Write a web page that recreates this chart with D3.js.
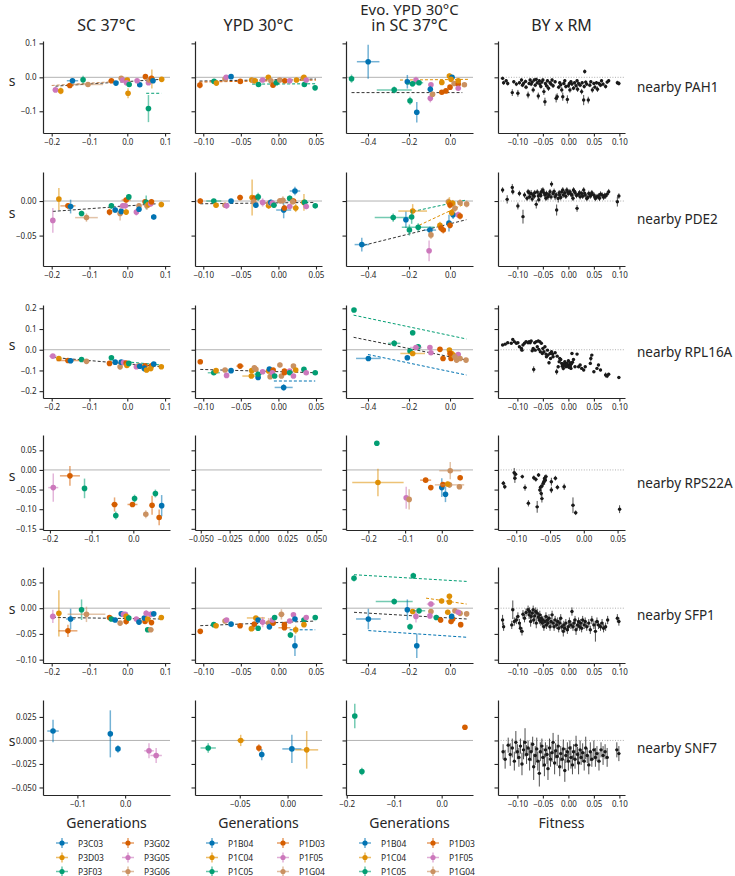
<!DOCTYPE html>
<html><head><meta charset="utf-8">
<script src="https://cdn.jsdelivr.net/npm/d3@7"></script>
<style>body{margin:0;background:#fff}svg{display:block}text{font-family:"Noto Sans",sans-serif;fill:#262626}</style>
</head><body><svg id="c" width="735" height="876"></svg>
<script>
// ---------------- DATA ----------------
const seriesSC = ["P3C03","P3D03","P3F03","P3G02","P3G05","P3G06"];
const seriesYPD = ["P1B04","P1C04","P1C05","P1D03","P1F05","P1G04"];
const seriesEvo = ["P1B04","P1C04","P1C05","P1D03","P1F05","P1G04"];
const colTitles = [["SC 37°C"],["YPD 30°C"],["Evo. YPD 30°C","in SC 37°C"],["BY x RM"]];
const rowGenes = ["nearby PAH1","nearby PDE2","nearby RPL16A","nearby RPS22A","nearby SFP1","nearby SNF7"];
const xLabels = ["Generations","Generations","Generations","Fitness"];
const yLabel = "s";
const byrmXerr = 0.0025;

const yDomains = [[-0.164,0.107],[-0.094,0.042],[-0.233,0.216],[-0.153,0.089],[-0.1065,0.080],[-0.058,0.043]];
const yTicks = [[-0.1,0,0.1],[-0.05,0],[-0.2,-0.1,0,0.1,0.2],[-0.15,-0.1,-0.05,0,0.05],[-0.1,-0.05,0,0.05],[-0.05,-0.025,0,0.025]];
const yFormats = [".1f",".2f",".1f",".2f",".2f",".3f"];
const xDomStd = [[-0.223,0.113],[-0.111,0.058],[-0.507,0.112],[-0.138,0.111]];
const xDomains = [xDomStd,xDomStd,xDomStd,
  [[-0.2166,0.088],[-0.055,0.055],[-0.261,0.085],[-0.127,0.061]],
  xDomStd,
  [[-0.172,0.094],[-0.0968,0.036],[-0.2015,0.066],[-0.138,0.111]]];
const xTickStd = [[-0.2,-0.1,0,0.1],[-0.1,-0.05,0,0.05],[-0.4,-0.2,0],[-0.1,-0.05,0,0.05,0.1]];
const xTicks = [xTickStd,xTickStd,xTickStd,
  [[-0.2,-0.1,0],[-0.05,-0.025,0,0.025,0.05],[-0.2,-0.1,0],[-0.1,-0.05,0,0.05]],
  xTickStd,
  [[-0.1,0],[-0.05,0],[-0.2,-0.1,0],[-0.1,-0.05,0,0.05,0.1]]];
const xFmtStd = [".1f",".2f",".1f",".2f"];
const xFormats = [xFmtStd,xFmtStd,xFmtStd,[".1f",".3f",".1f",".2f"],xFmtStd,[".1f",".2f",".1f",".2f"]];

// colored panels: [series, x, y, xerr, yerr]; fits: [series(-1=all), x1,y1,x2,y2]
const pah1_sc = [[4,-0.190,-0.037,0.008,0.006],[1,-0.176,-0.040,0.004,0.010],[3,-0.152,-0.024,0.010,0.004],[0,-0.145,-0.010,0.015,0.008],[2,-0.117,-0.007,0.005,0.012],[5,-0.104,-0.021,0.040,0.006],[3,-0.042,-0.010,0.008,0.004],[0,-0.030,-0.017,0.004,0.004],[5,-0.016,-0.003,0.006,0.004],[4,-0.012,-0.008,0.006,0.004],[1,0.000,-0.008,0.006,0.004],[4,-0.002,-0.016,0.006,0.006],[1,0.002,-0.047,0.005,0.015],[2,0.005,-0.021,0.004,0.006],[0,0.033,-0.022,0.004,0.004],[4,0.026,-0.010,0.006,0.004],[3,0.048,0.002,0.004,0.004],[2,0.056,-0.092,0.004,0.040],[4,0.056,-0.016,0.006,0.006],[5,0.058,-0.008,0.006,0.006],[1,0.065,-0.005,0.004,0.028],[3,0.064,-0.003,0.006,0.008],[0,0.068,-0.010,0.006,0.006],[1,0.091,-0.006,0.004,0.004]];
const pah1_sc_fit = [[-1,-0.19,-0.026,0.09,-0.006],[5,-0.2,-0.024,-0.04,-0.013],[2,0.05,-0.047,0.09,-0.047]];
const pah1_ypd = [[3,-0.1045,-0.023,0.002,0.010],[2,-0.0856,-0.012,0.004,0.004],[1,-0.0825,-0.017,0.003,0.005],[5,-0.071,-0.005,0.003,0.004],[4,-0.0695,0.000,0.003,0.004],[0,-0.063,0.002,0.002,0.003],[3,-0.0507,-0.012,0.003,0.003],[1,-0.0355,-0.008,0.004,0.004],[5,-0.033,-0.010,0.003,0.004],[1,-0.031,-0.010,0.003,0.003],[2,-0.0265,-0.021,0.004,0.005],[4,-0.021,-0.008,0.003,0.004],[1,-0.0134,0.000,0.003,0.003],[5,-0.010,-0.010,0.003,0.005],[3,-0.0072,-0.023,0.003,0.004],[2,-0.0027,-0.016,0.004,0.004],[5,0.0018,-0.008,0.003,0.004],[3,0.0085,-0.010,0.003,0.004],[4,0.015,-0.010,0.003,0.004],[1,0.024,-0.008,0.003,0.004],[5,0.033,-0.003,0.003,0.004],[1,0.034,0.000,0.003,0.005],[2,0.0345,-0.021,0.003,0.004],[4,0.037,-0.008,0.003,0.004],[2,0.0488,-0.031,0.002,0.004]];
const pah1_ypd_fit = [[-1,-0.105,-0.011,0.05,-0.005],[3,-0.105,-0.014,0.05,-0.008],[2,-0.035,-0.020,0.05,-0.019]];
const pah1_evo = [[0,-0.399,0.046,0.055,0.05],[2,-0.48,-0.004,0.005,0.012],[2,-0.272,-0.037,0.085,0.01],[0,-0.208,-0.013,0.01,0.02],[2,-0.195,-0.069,0.01,0.012],[4,-0.166,-0.008,0.01,0.01],[2,-0.183,-0.019,0.03,0.008],[2,-0.151,-0.016,0.02,0.006],[0,-0.162,-0.103,0.005,0.03],[1,-0.04,-0.015,0.01,0.005],[4,-0.093,-0.022,0.01,0.005],[0,-0.096,-0.035,0.005,0.01],[4,-0.096,-0.062,0.005,0.012],[5,-0.085,-0.050,0.005,0.008],[3,-0.04,-0.044,0.008,0.005],[3,-0.02,-0.040,0.008,0.005],[3,0.0,-0.029,0.005,0.005],[1,-0.003,0.004,0.005,0.008],[0,0.010,0.000,0.005,0.005],[1,0.005,-0.006,0.005,0.005],[5,0.02,-0.018,0.01,0.005],[3,0.04,-0.020,0.005,0.005],[4,0.04,-0.032,0.005,0.005],[5,0.07,-0.022,0.005,0.005],[1,0.04,-0.010,0.005,0.005]];
const pah1_evo_fit = [[-1,-0.48,-0.045,0.06,-0.045],[1,-0.244,-0.008,0.09,-0.006]];
// BY x RM: [x, y, yerr]
const pah1_byrm = [[-0.129,-0.003,0.005],[-0.127,-0.016,0.006],[-0.122,-0.010,0.005],[-0.119,-0.018,0.006],[-0.110,-0.045,0.010],[-0.107,-0.013,0.005],[-0.102,-0.020,0.006],[-0.099,-0.047,0.010],[-0.096,-0.016,0.005],[-0.092,-0.008,0.005],[-0.090,-0.023,0.006],[-0.088,-0.018,0.005],[-0.084,-0.012,0.005],[-0.083,-0.029,0.006],[-0.079,-0.052,0.010],[-0.077,-0.018,0.005],[-0.075,-0.008,0.005],[-0.073,-0.020,0.006],[-0.071,-0.014,0.005],[-0.069,-0.037,0.008],[-0.067,-0.008,0.005],[-0.065,-0.023,0.006],[-0.063,-0.006,0.005],[-0.061,-0.016,0.005],[-0.059,-0.055,0.010],[-0.057,-0.010,0.005],[-0.056,-0.020,0.006],[-0.054,-0.027,0.006],[-0.052,-0.014,0.005],[-0.050,-0.008,0.005],[-0.048,-0.042,0.010],[-0.046,-0.072,0.012],[-0.045,-0.018,0.005],[-0.043,-0.025,0.006],[-0.041,-0.010,0.005],[-0.039,-0.032,0.008],[-0.036,-0.016,0.005],[-0.034,-0.020,0.006],[-0.032,-0.008,0.005],[-0.030,-0.025,0.006],[-0.026,-0.013,0.005],[-0.024,-0.062,0.012],[-0.022,-0.057,0.010],[-0.019,-0.029,0.006],[-0.017,-0.016,0.005],[-0.015,-0.022,0.006],[-0.013,-0.037,0.008],[-0.011,-0.057,0.012],[-0.009,-0.018,0.005],[-0.007,-0.010,0.005],[-0.005,-0.027,0.006],[-0.002,-0.065,0.012],[0.000,-0.025,0.006],[0.002,-0.018,0.005],[0.003,-0.037,0.008],[0.005,-0.013,0.005],[0.007,-0.020,0.006],[0.010,-0.032,0.006],[0.012,-0.016,0.005],[0.015,-0.025,0.006],[0.017,-0.010,0.005],[0.018,-0.035,0.008],[0.020,-0.018,0.005],[0.023,-0.023,0.006],[0.026,-0.042,0.008],[0.027,-0.016,0.005],[0.030,-0.067,0.015],[0.031,-0.027,0.006],[0.032,0.017,0.006],[0.034,-0.014,0.005],[0.036,-0.020,0.006],[0.039,-0.067,0.010],[0.042,-0.023,0.006],[0.044,-0.013,0.005],[0.047,-0.037,0.008],[0.050,-0.018,0.005],[0.052,-0.029,0.006],[0.055,-0.016,0.005],[0.057,-0.035,0.008],[0.060,-0.018,0.005],[0.063,-0.023,0.006],[0.065,-0.010,0.005],[0.068,-0.020,0.006],[0.073,-0.027,0.006],[0.076,-0.014,0.005],[0.079,-0.010,0.005],[0.096,-0.016,0.006],[0.099,-0.018,0.006]];

const pde2_sc = [[4,-0.197,-0.028,0.006,0.018],[1,-0.181,0.003,0.004,0.016],[3,-0.157,-0.007,0.020,0.004],[0,-0.150,-0.008,0.008,0.010],[2,-0.121,-0.018,0.004,0.004],[5,-0.108,-0.024,0.030,0.006],[3,-0.047,-0.016,0.004,0.005],[2,-0.042,-0.007,0.004,0.004],[0,-0.032,-0.013,0.004,0.004],[5,-0.019,-0.018,0.004,0.010],[0,-0.016,-0.015,0.004,0.004],[4,-0.012,-0.007,0.012,0.004],[4,-0.005,-0.007,0.006,0.004],[3,-0.003,0.0015,0.012,0.004],[1,-0.003,-0.016,0.004,0.004],[2,0.004,0.006,0.004,0.004],[4,0.024,-0.016,0.004,0.005],[5,0.031,-0.007,0.004,0.004],[0,0.031,-0.012,0.004,0.004],[3,0.047,-0.001,0.004,0.004],[2,0.050,-0.002,0.004,0.010],[5,0.052,-0.007,0.006,0.006],[1,0.056,-0.005,0.004,0.004],[4,0.062,-0.004,0.006,0.004],[3,0.064,-0.001,0.004,0.004],[0,0.070,-0.023,0.003,0.004],[1,0.090,-0.005,0.004,0.004]];
const pde2_sc_fit = [[-1,-0.197,-0.015,0.077,-0.004]];
const pde2_ypd = [[3,-0.104,0.000,0.003,0.004],[2,-0.086,0.000,0.010,0.003],[1,-0.083,-0.006,0.003,0.004],[5,-0.071,-0.006,0.003,0.004],[4,-0.069,-0.007,0.004,0.004],[0,-0.063,0.000,0.003,0.003],[3,-0.051,0.005,0.004,0.004],[1,-0.035,0.005,0.004,0.026],[3,-0.032,0.004,0.004,0.004],[5,-0.033,-0.001,0.004,0.006],[0,-0.030,-0.006,0.003,0.004],[2,-0.027,0.006,0.004,0.006],[4,-0.021,-0.002,0.004,0.006],[1,-0.013,-0.007,0.004,0.004],[5,-0.012,-0.003,0.006,0.004],[0,-0.010,-0.002,0.004,0.004],[4,-0.008,-0.003,0.004,0.004],[2,-0.006,-0.006,0.004,0.004],[5,0.002,0.0005,0.004,0.004],[0,0.007,-0.013,0.010,0.012],[3,0.008,-0.010,0.004,0.004],[5,0.006,0.001,0.004,0.006],[4,0.015,-0.008,0.004,0.004],[2,0.015,0.004,0.003,0.004],[0,0.022,0.0145,0.007,0.006],[1,0.023,-0.010,0.004,0.006],[3,0.020,0.000,0.004,0.004],[5,0.019,-0.001,0.004,0.004],[1,0.034,-0.002,0.004,0.012],[2,0.035,-0.002,0.004,0.004],[4,0.037,-0.008,0.004,0.004],[2,0.049,-0.007,0.003,0.003]];
const pde2_ypd_fit = [[-1,-0.104,-0.004,0.049,-0.002]];
const pde2_evo = [[0,-0.43,-0.063,0.035,0.010],[2,-0.277,-0.024,0.09,0.006],[0,-0.215,-0.027,0.005,0.012],[1,-0.182,-0.0145,0.07,0.010],[2,-0.187,-0.023,0.01,0.010],[2,-0.198,-0.042,0.005,0.008],[2,-0.155,-0.038,0.08,0.006],[0,-0.098,-0.042,0.03,0.005],[5,-0.093,-0.049,0.01,0.006],[4,-0.102,-0.072,0.005,0.015],[1,-0.049,-0.035,0.005,0.005],[3,-0.044,-0.039,0.005,0.005],[3,-0.033,-0.042,0.005,0.005],[0,-0.005,-0.032,0.005,0.012],[3,0.000,-0.035,0.005,0.005],[0,0.015,-0.020,0.005,0.006],[5,-0.008,-0.001,0.008,0.005],[1,-0.003,-0.0024,0.005,0.008],[1,0.013,-0.0034,0.005,0.005],[3,0.000,-0.0058,0.005,0.005],[5,0.024,-0.0106,0.005,0.006],[1,0.008,-0.0168,0.005,0.005],[4,0.040,-0.020,0.005,0.005],[3,0.049,-0.0216,0.005,0.005],[5,0.049,-0.0024,0.005,0.005],[5,0.081,-0.0043,0.005,0.005]];
const pde2_evo_fit = [[2,-0.18,-0.015,0.08,0.0015],[1,-0.15,-0.035,0.08,-0.003],[-1,-0.42,-0.064,0.08,-0.027]];
const pde2_byrm = [[-0.129,0.0159,0.004],[-0.120,0.0024,0.006],[-0.110,0.0197,0.005],[-0.109,0.0135,0.004],[-0.099,-0.0072,0.005],[-0.096,0.011,0.004],[-0.089,-0.0226,0.010],[-0.086,0.0087,0.004],[-0.079,0.0135,0.004],[-0.076,0.0063,0.004],[-0.073,0.011,0.005],[-0.069,0.0087,0.004],[-0.066,0.012,0.004],[-0.063,-0.0048,0.006],[-0.059,0.0072,0.004],[-0.056,0.010,0.004],[-0.053,0.0135,0.005],[-0.050,0.0159,0.004],[-0.046,0.0087,0.004],[-0.043,0.011,0.004],[-0.040,0.0063,0.005],[-0.036,0.0135,0.004],[-0.033,0.0245,0.004],[-0.030,0.011,0.004],[-0.026,0.0063,0.005],[-0.023,-0.013,0.008],[-0.020,0.0038,0.006],[-0.017,0.0087,0.004],[-0.013,0.0135,0.004],[-0.010,0.0087,0.004],[-0.007,0.012,0.004],[-0.003,0.0159,0.004],[0.000,0.011,0.004],[0.003,0.0135,0.004],[0.007,0.0087,0.004],[0.010,0.0159,0.004],[0.013,0.012,0.004],[0.017,-0.0106,0.005],[0.020,0.010,0.004],[0.023,0.0063,0.004],[0.026,0.011,0.004],[0.030,0.0159,0.004],[0.033,0.0087,0.004],[0.036,0.0038,0.004],[0.040,0.011,0.004],[0.043,0.0072,0.004],[0.046,0.012,0.004],[0.050,0.0087,0.004],[0.053,0.0038,0.004],[0.056,0.0063,0.004],[0.059,0.0072,0.004],[0.063,0.010,0.004],[0.066,0.0087,0.004],[0.069,0.0053,0.004],[0.073,0.0072,0.004],[0.076,0.010,0.004],[0.079,0.0135,0.004],[0.096,-0.001,0.007],[0.099,0.0072,0.004],[-0.081,0.004,0.004],[-0.077,0.012,0.004],[-0.071,0.003,0.004],[-0.067,0.007,0.004],[-0.061,0.013,0.004],[-0.058,0.002,0.004],[-0.054,0.008,0.004],[-0.048,0.012,0.004],[-0.044,0.004,0.004],[-0.038,0.009,0.004],[-0.034,0.006,0.004],[-0.028,0.014,0.004],[-0.024,0.009,0.004],[-0.018,0.012,0.004],[-0.015,0.005,0.004],[-0.011,0.016,0.004],[-0.005,0.007,0.004],[-0.001,0.013,0.004],[0.005,0.010,0.004],[0.009,0.004,0.004],[0.012,0.014,0.004],[0.016,0.008,0.004],[0.022,0.012,0.004],[0.028,0.007,0.004],[0.032,0.011,0.004],[0.038,0.005,0.004],[0.045,0.009,0.004],[0.052,0.006,0.004],[0.061,0.004,0.004],[0.071,0.008,0.004]];

const rpl16a_sc = [[4,-0.197,-0.031,0.010,0.005],[1,-0.181,-0.042,0.005,0.006],[3,-0.157,-0.052,0.030,0.006],[0,-0.150,-0.053,0.008,0.012],[2,-0.121,-0.047,0.005,0.006],[5,-0.108,-0.056,0.010,0.006],[3,-0.047,-0.066,0.006,0.006],[2,-0.042,-0.039,0.004,0.006],[0,-0.032,-0.060,0.004,0.006],[5,-0.019,-0.082,0.004,0.016],[0,-0.016,-0.060,0.004,0.006],[4,-0.010,-0.062,0.006,0.006],[3,-0.003,-0.064,0.006,0.006],[1,-0.001,-0.076,0.004,0.008],[2,0.004,-0.066,0.004,0.006],[4,0.024,-0.082,0.006,0.006],[5,0.031,-0.077,0.004,0.006],[0,0.033,-0.080,0.004,0.006],[3,0.047,-0.077,0.004,0.006],[0,0.045,-0.090,0.004,0.016],[1,0.051,-0.098,0.004,0.012],[3,0.064,-0.077,0.004,0.006],[1,0.062,-0.090,0.004,0.014],[0,0.070,-0.069,0.004,0.006],[1,0.090,-0.082,0.004,0.006]];
const rpl16a_sc_fit = [[-1,-0.197,-0.037,0.090,-0.082],[2,-0.003,-0.058,0.090,-0.074]];
const rpl16a_ypd = [[3,-0.104,-0.058,0.002,0.005],[2,-0.086,-0.111,0.008,0.008],[1,-0.083,-0.101,0.003,0.006],[5,-0.071,-0.098,0.003,0.006],[4,-0.069,-0.124,0.003,0.008],[0,-0.063,-0.101,0.003,0.006],[3,-0.051,-0.079,0.005,0.006],[1,-0.0355,-0.101,0.003,0.008],[5,-0.032,-0.087,0.003,0.012],[5,-0.030,-0.094,0.003,0.006],[1,-0.036,-0.127,0.012,0.006],[0,-0.027,-0.134,0.003,0.010],[2,-0.027,-0.118,0.005,0.008],[4,-0.021,-0.106,0.003,0.006],[1,-0.013,-0.103,0.003,0.006],[0,-0.012,-0.093,0.003,0.006],[5,-0.011,-0.130,0.003,0.008],[3,-0.007,-0.098,0.003,0.006],[4,-0.008,-0.111,0.003,0.006],[2,-0.005,-0.127,0.003,0.006],[5,0.002,-0.074,0.003,0.012],[5,0.004,-0.127,0.003,0.006],[3,0.008,-0.103,0.003,0.006],[0,0.007,-0.182,0.012,0.016],[3,0.008,-0.111,0.003,0.010],[4,0.015,-0.103,0.003,0.006],[2,0.015,-0.111,0.003,0.006],[5,0.020,-0.079,0.003,0.006],[4,0.020,-0.127,0.003,0.006],[1,0.023,-0.098,0.003,0.006],[2,0.034,-0.095,0.003,0.006],[4,0.037,-0.111,0.003,0.006],[2,0.049,-0.111,0.003,0.006]];
const rpl16a_ypd_fit = [[-1,-0.104,-0.095,0.049,-0.111],[0,-0.006,-0.151,0.049,-0.151]];
const rpl16a_evo = [[2,-0.468,0.192,0.005,0.008],[0,-0.398,-0.042,0.06,0.008],[2,-0.272,0.031,0.03,0.015],[2,-0.182,0.082,0.005,0.012],[2,-0.195,-0.006,0.005,0.008],[2,-0.155,0.0145,0.01,0.012],[4,-0.166,0.011,0.03,0.008],[0,-0.208,-0.039,0.005,0.008],[1,-0.182,-0.018,0.06,0.008],[4,-0.098,0.011,0.01,0.006],[4,-0.093,-0.0145,0.005,0.006],[3,-0.049,0.002,0.005,0.006],[1,-0.003,-0.0016,0.005,0.006],[3,-0.034,-0.042,0.005,0.006],[3,0.005,-0.042,0.005,0.006],[1,0.008,-0.018,0.005,0.006],[5,0.032,-0.050,0.005,0.006],[1,0.016,-0.026,0.005,0.006],[3,0.000,-0.018,0.005,0.006],[4,0.040,-0.023,0.005,0.006],[5,0.049,-0.042,0.005,0.006],[5,0.078,-0.050,0.005,0.006],[5,0.024,-0.034,0.005,0.006]];
const rpl16a_evo_fit = [[2,-0.47,0.167,0.08,0.052],[-1,-0.47,0.060,0.08,-0.050],[0,-0.40,-0.023,0.08,-0.122]];
const rpl16a_byrm = [[-0.129,0.023,0.005],[-0.124,0.027,0.005],[-0.119,0.034,0.005],[-0.112,0.031,0.005],[-0.109,0.050,0.006],[-0.106,0.039,0.005],[-0.102,0.031,0.005],[-0.099,0.034,0.005],[-0.096,0.0145,0.005],[-0.092,0.006,0.006],[-0.091,-0.002,0.006],[-0.089,0.023,0.005],[-0.086,0.031,0.005],[-0.083,0.039,0.005],[-0.079,0.034,0.005],[-0.077,0.039,0.005],[-0.075,0.034,0.005],[-0.073,0.042,0.005],[-0.071,-0.005,0.006],[-0.069,0.006,0.005],[-0.068,-0.095,0.015],[-0.066,0.034,0.005],[-0.065,-0.002,0.006],[-0.063,0.039,0.005],[-0.061,0.0145,0.006],[-0.059,0.043,0.005],[-0.058,0.002,0.006],[-0.056,0.039,0.005],[-0.055,-0.010,0.006],[-0.053,0.031,0.005],[-0.051,-0.018,0.006],[-0.050,0.006,0.005],[-0.048,-0.010,0.006],[-0.046,0.0145,0.005],[-0.044,-0.021,0.006],[-0.043,-0.034,0.006],[-0.041,-0.002,0.005],[-0.040,-0.026,0.006],[-0.038,-0.063,0.008],[-0.036,-0.018,0.006],[-0.035,-0.042,0.006],[-0.033,-0.010,0.005],[-0.031,-0.021,0.006],[-0.030,-0.034,0.006],[-0.026,-0.0145,0.006],[-0.023,-0.106,0.014],[-0.022,-0.031,0.006],[-0.020,-0.082,0.008],[-0.018,-0.058,0.006],[-0.017,-0.042,0.006],[-0.015,-0.047,0.006],[-0.013,-0.066,0.006],[-0.011,-0.074,0.006],[-0.010,-0.090,0.010],[-0.009,-0.069,0.006],[-0.007,-0.058,0.006],[-0.005,-0.082,0.006],[-0.003,-0.066,0.006],[-0.002,-0.079,0.006],[0.000,-0.053,0.006],[0.002,-0.074,0.006],[0.003,-0.063,0.006],[0.005,-0.090,0.008],[0.007,-0.018,0.006],[0.010,-0.047,0.006],[0.013,-0.082,0.006],[0.017,-0.021,0.006],[0.020,-0.082,0.006],[0.023,-0.074,0.006],[0.026,-0.090,0.006],[0.030,-0.098,0.006],[0.033,-0.082,0.006],[0.043,-0.066,0.008],[0.044,-0.042,0.014],[0.046,-0.026,0.006],[0.050,-0.106,0.006],[0.056,-0.090,0.006],[0.059,-0.074,0.006],[0.063,-0.098,0.006],[0.073,-0.122,0.012],[0.076,-0.127,0.010],[0.079,-0.118,0.006],[0.099,-0.134,0.006],[-0.004,-0.070,0.006],[0.001,-0.085,0.006],[0.004,-0.078,0.006],[-0.008,-0.075,0.006],[0.006,-0.068,0.006],[-0.012,-0.080,0.006],[0.008,-0.060,0.006]];

const rps22a_sc = [[4,-0.192,-0.045,0.012,0.036],[3,-0.152,-0.015,0.024,0.025],[2,-0.117,-0.047,0.003,0.025],[3,-0.045,-0.088,0.008,0.018],[2,-0.042,-0.116,0.003,0.010],[3,-0.002,-0.088,0.012,0.006],[2,0.003,-0.073,0.003,0.010],[5,0.030,-0.113,0.003,0.010],[3,0.045,-0.090,0.003,0.024],[2,0.053,-0.060,0.003,0.010],[3,0.062,-0.121,0.003,0.020],[0,0.068,-0.091,0.003,0.027]];
const rps22a_sc_fit = [];
const rps22a_ypd = [];
const rps22a_ypd_fit = [];
const rps22a_evo = [[2,-0.177,0.068,0.003,0.005],[1,-0.174,-0.032,0.070,0.035],[4,-0.097,-0.071,0.003,0.028],[5,-0.089,-0.075,0.003,0.026],[3,-0.044,-0.026,0.015,0.005],[3,-0.030,-0.045,0.003,0.005],[0,0.000,-0.045,0.006,0.024],[3,0.003,-0.037,0.003,0.006],[0,0.010,-0.062,0.003,0.020],[5,0.023,-0.002,0.030,0.022],[5,0.021,-0.038,0.040,0.008],[1,0.016,-0.036,0.003,0.006],[3,0.050,-0.020,0.003,0.006],[5,0.048,-0.043,0.003,0.006]];
const rps22a_evo_fit = [];
const rps22a_byrm = [[-0.119,-0.034,0.006],[-0.117,-0.043,0.006],[-0.103,-0.007,0.012],[-0.101,-0.011,0.006],[-0.102,-0.021,0.012],[-0.091,-0.017,0.005],[-0.087,-0.045,0.008],[-0.082,-0.085,0.008],[-0.074,-0.020,0.006],[-0.071,-0.024,0.006],[-0.067,-0.013,0.005],[-0.069,-0.094,0.015],[-0.065,-0.051,0.006],[-0.064,-0.044,0.006],[-0.063,-0.060,0.008],[-0.062,-0.041,0.006],[-0.062,-0.073,0.010],[-0.060,-0.034,0.006],[-0.059,-0.030,0.006],[-0.058,-0.026,0.012],[-0.058,-0.021,0.006],[-0.057,-0.026,0.006],[-0.056,-0.017,0.006],[-0.048,-0.030,0.010],[-0.048,-0.051,0.008],[-0.042,-0.021,0.006],[-0.039,-0.044,0.006],[-0.029,-0.043,0.008],[-0.016,-0.090,0.020],[-0.012,-0.109,0.006],[0.053,-0.100,0.010]];

const sfp1_sc = [[4,-0.197,-0.016,0.008,0.013],[1,-0.181,-0.010,0.003,0.045],[3,-0.157,-0.044,0.025,0.012],[0,-0.150,-0.021,0.012,0.020],[2,-0.121,-0.003,0.003,0.020],[5,-0.108,-0.012,0.050,0.015],[3,-0.047,-0.018,0.004,0.004],[2,-0.042,-0.021,0.004,0.004],[0,-0.032,-0.023,0.004,0.004],[5,-0.019,-0.029,0.004,0.004],[0,-0.016,-0.011,0.004,0.004],[4,-0.010,-0.012,0.004,0.004],[4,-0.005,-0.012,0.004,0.004],[3,-0.003,-0.026,0.004,0.006],[1,-0.003,-0.016,0.004,0.006],[2,0.004,-0.019,0.004,0.006],[5,0.031,-0.026,0.004,0.004],[4,0.024,-0.021,0.004,0.004],[0,0.031,-0.027,0.004,0.004],[3,0.047,-0.026,0.004,0.004],[0,0.045,-0.019,0.004,0.004],[4,0.050,-0.010,0.004,0.006],[1,0.054,-0.021,0.004,0.004],[2,0.054,-0.042,0.004,0.004],[5,0.062,-0.042,0.008,0.004],[3,0.064,-0.028,0.004,0.004],[4,0.062,-0.012,0.004,0.006],[0,0.070,-0.011,0.004,0.004],[1,0.090,-0.018,0.004,0.004]];
const sfp1_sc_fit = [[-1,-0.197,-0.018,0.090,-0.021]];
const sfp1_ypd = [[3,-0.104,-0.045,0.002,0.004],[2,-0.086,-0.032,0.004,0.004],[1,-0.083,-0.034,0.003,0.004],[5,-0.071,-0.025,0.003,0.004],[4,-0.069,-0.023,0.003,0.004],[0,-0.063,-0.031,0.003,0.004],[3,-0.051,-0.034,0.003,0.004],[1,-0.030,-0.019,0.012,0.004],[5,-0.035,-0.039,0.004,0.004],[1,-0.036,-0.040,0.003,0.004],[3,-0.032,-0.031,0.003,0.004],[0,-0.027,-0.023,0.003,0.004],[2,-0.027,-0.039,0.003,0.004],[4,-0.021,-0.027,0.003,0.010],[5,-0.013,-0.029,0.003,0.010],[0,-0.012,-0.036,0.003,0.006],[3,-0.007,-0.029,0.003,0.004],[4,-0.008,-0.023,0.003,0.004],[2,-0.005,-0.018,0.003,0.004],[5,0.004,-0.012,0.004,0.010],[3,0.008,-0.032,0.003,0.004],[3,0.008,-0.038,0.008,0.004],[4,0.015,-0.025,0.003,0.004],[2,0.016,-0.052,0.003,0.006],[4,0.020,-0.013,0.003,0.004],[0,0.022,-0.073,0.003,0.020],[0,0.022,-0.021,0.003,0.004],[1,0.023,-0.042,0.003,0.008],[2,0.034,-0.023,0.003,0.004],[1,0.034,-0.032,0.003,0.004],[4,0.037,-0.018,0.003,0.004],[2,0.049,-0.018,0.003,0.004]];
const sfp1_ypd_fit = [[-1,-0.104,-0.034,0.049,-0.025],[0,0.015,-0.042,0.049,-0.042]];
const sfp1_evo = [[2,-0.468,0.058,0.003,0.006],[0,-0.398,-0.021,0.06,0.020],[2,-0.272,0.013,0.09,0.006],[2,-0.179,0.063,0.003,0.006],[0,-0.208,-0.003,0.003,0.020],[0,-0.162,-0.073,0.003,0.024],[2,-0.195,-0.036,0.003,0.006],[1,-0.182,-0.0065,0.01,0.005],[2,-0.151,-0.005,0.03,0.006],[4,-0.166,-0.016,0.003,0.012],[4,-0.093,0.008,0.02,0.005],[5,-0.093,-0.0065,0.003,0.005],[4,-0.098,-0.015,0.003,0.005],[2,-0.067,-0.018,0.003,0.005],[1,-0.041,0.014,0.003,0.005],[1,-0.003,0.023,0.003,0.005],[1,-0.003,0.012,0.003,0.005],[3,-0.046,-0.023,0.003,0.005],[3,0.005,-0.026,0.003,0.005],[3,0.013,-0.021,0.003,0.005],[3,0.052,-0.032,0.003,0.005],[5,0.024,-0.005,0.003,0.005],[5,0.049,-0.010,0.003,0.005],[5,0.081,-0.011,0.003,0.005],[4,0.040,-0.008,0.003,0.005],[0,0.008,-0.016,0.003,0.005],[1,-0.011,-0.008,0.003,0.005]];
const sfp1_evo_fit = [[2,-0.468,0.065,0.081,0.052],[-1,-0.468,-0.008,0.081,-0.021],[0,-0.398,-0.0435,0.081,-0.0565],[1,-0.117,0.0195,0.081,0.008]];
const sfp1_byrm = [[-0.129,-0.023,0.010],[-0.127,-0.036,0.008],[-0.111,-0.0325,0.008],[-0.109,-0.003,0.018],[-0.106,-0.026,0.008],[-0.102,-0.023,0.008],[-0.099,-0.016,0.008],[-0.096,-0.029,0.008],[-0.094,-0.039,0.008],[-0.091,-0.045,0.008],[-0.089,-0.0117,0.008],[-0.086,-0.0195,0.008],[-0.083,-0.0084,0.008],[-0.079,-0.003,0.008],[-0.077,-0.013,0.008],[-0.076,-0.0065,0.008],[-0.074,-0.026,0.010],[-0.073,-0.016,0.008],[-0.071,-0.0097,0.008],[-0.069,-0.003,0.008],[-0.068,-0.023,0.008],[-0.066,-0.015,0.008],[-0.064,-0.0065,0.008],[-0.063,-0.029,0.010],[-0.061,-0.0097,0.008],[-0.059,-0.0175,0.008],[-0.057,-0.023,0.008],[-0.056,-0.013,0.008],[-0.054,-0.026,0.008],[-0.053,-0.0195,0.008],[-0.051,-0.029,0.008],[-0.050,-0.023,0.008],[-0.048,-0.036,0.008],[-0.046,-0.026,0.008],[-0.044,-0.016,0.008],[-0.043,-0.0325,0.008],[-0.041,-0.023,0.008],[-0.040,-0.029,0.008],[-0.038,-0.0195,0.008],[-0.036,-0.036,0.008],[-0.034,-0.026,0.008],[-0.032,-0.013,0.008],[-0.030,-0.029,0.008],[-0.028,-0.036,0.008],[-0.026,-0.023,0.008],[-0.023,-0.0325,0.008],[-0.021,-0.026,0.008],[-0.019,-0.039,0.008],[-0.017,-0.029,0.008],[-0.015,-0.0195,0.008],[-0.013,-0.036,0.008],[-0.010,-0.045,0.010],[-0.009,-0.0325,0.008],[-0.007,-0.039,0.008],[-0.005,-0.029,0.008],[-0.002,-0.042,0.008],[0.000,-0.036,0.008],[0.002,-0.026,0.008],[0.005,-0.0325,0.008],[0.007,-0.0065,0.008],[0.009,-0.036,0.008],[0.011,-0.029,0.008],[0.013,-0.023,0.008],[0.015,-0.042,0.010],[0.018,-0.0325,0.008],[0.020,-0.026,0.008],[0.022,-0.036,0.008],[0.024,-0.029,0.008],[0.026,-0.039,0.008],[0.028,-0.023,0.008],[0.031,-0.0325,0.008],[0.033,-0.026,0.008],[0.036,-0.036,0.008],[0.040,-0.029,0.008],[0.043,-0.042,0.008],[0.046,-0.023,0.008],[0.050,-0.0325,0.008],[0.053,-0.045,0.020],[0.056,-0.026,0.008],[0.059,-0.0325,0.008],[0.063,-0.036,0.008],[0.066,-0.029,0.008],[0.069,-0.039,0.008],[0.073,-0.036,0.008],[0.077,-0.023,0.008],[0.096,-0.0195,0.008],[0.099,-0.026,0.008]];

const snf7_sc = [[0,-0.151,0.010,0.012,0.012],[0,-0.031,0.007,0.004,0.025],[0,-0.015,-0.009,0.004,0.004],[4,0.050,-0.011,0.010,0.008],[4,0.065,-0.016,0.012,0.008]];
const snf7_sc_fit = [];
const snf7_ypd = [[2,-0.083,-0.008,0.008,0.005],[1,-0.049,0.000,0.004,0.006],[3,-0.030,-0.008,0.002,0.004],[0,-0.027,-0.015,0.002,0.006],[0,0.0045,-0.009,0.010,0.015],[1,0.020,-0.010,0.012,0.020]];
const snf7_ypd_fit = [];
const snf7_evo = [[2,-0.183,0.026,0.003,0.013],[2,-0.168,-0.033,0.003,0.004],[3,0.049,0.014,0.002,0.002]];
const snf7_evo_fit = [];
const snf7_byrm = [[-0.128,-0.012,0.008],[-0.124,-0.020,0.010],[-0.118,-0.005,0.008],[-0.114,-0.015,0.012],[-0.110,-0.008,0.010],[-0.106,-0.022,0.010],[-0.103,-0.002,0.012],[-0.100,-0.012,0.008],[-0.097,-0.018,0.010],[-0.094,-0.006,0.008],[-0.091,-0.025,0.012],[-0.088,-0.010,0.010],[-0.085,-0.002,0.015],[-0.082,-0.015,0.010],[-0.079,-0.008,0.008],[-0.076,-0.020,0.012],[-0.073,-0.012,0.010],[-0.070,-0.004,0.008],[-0.068,-0.028,0.014],[-0.065,-0.016,0.010],[-0.062,-0.009,0.012],[-0.060,-0.022,0.010],[-0.057,-0.035,0.014],[-0.055,-0.012,0.010],[-0.052,-0.006,0.008],[-0.050,-0.018,0.010],[-0.047,-0.026,0.012],[-0.045,-0.010,0.008],[-0.042,-0.015,0.010],[-0.040,-0.030,0.012],[-0.037,-0.008,0.010],[-0.035,-0.020,0.008],[-0.032,-0.013,0.010],[-0.030,-0.002,0.010],[-0.027,-0.024,0.012],[-0.025,-0.011,0.008],[-0.022,-0.017,0.010],[-0.020,-0.006,0.012],[-0.017,-0.028,0.010],[-0.015,-0.014,0.008],[-0.012,-0.020,0.010],[-0.010,-0.009,0.010],[-0.007,-0.032,0.012],[-0.005,-0.016,0.008],[-0.002,-0.012,0.010],[0.000,-0.022,0.010],[0.003,-0.008,0.008],[0.005,-0.018,0.012],[0.008,-0.026,0.010],[0.010,-0.012,0.008],[0.013,-0.020,0.010],[0.015,-0.005,0.010],[0.018,-0.015,0.008],[0.020,-0.024,0.012],[0.023,-0.010,0.010],[0.025,-0.018,0.008],[0.028,-0.013,0.010],[0.031,-0.022,0.010],[0.034,-0.008,0.012],[0.037,-0.016,0.008],[0.040,-0.026,0.010],[0.043,-0.012,0.010],[0.046,-0.020,0.008],[0.050,-0.010,0.010],[0.053,-0.018,0.010],[0.056,-0.014,0.008],[0.060,-0.022,0.010],[0.064,-0.010,0.008],[0.068,-0.016,0.010],[0.072,-0.012,0.008],[0.076,-0.018,0.010],[0.095,-0.010,0.008],[0.099,-0.014,0.008]];

const panelData = [
  [[pah1_sc,pah1_sc_fit],[pah1_ypd,pah1_ypd_fit],[pah1_evo,pah1_evo_fit],pah1_byrm],
  [[pde2_sc,pde2_sc_fit],[pde2_ypd,pde2_ypd_fit],[pde2_evo,pde2_evo_fit],pde2_byrm],
  [[rpl16a_sc,rpl16a_sc_fit],[rpl16a_ypd,rpl16a_ypd_fit],[rpl16a_evo,rpl16a_evo_fit],rpl16a_byrm],
  [[rps22a_sc,rps22a_sc_fit],[rps22a_ypd,rps22a_ypd_fit],[rps22a_evo,rps22a_evo_fit],rps22a_byrm],
  [[sfp1_sc,sfp1_sc_fit],[sfp1_ypd,sfp1_ypd_fit],[sfp1_evo,sfp1_evo_fit],sfp1_byrm],
  [[snf7_sc,snf7_sc_fit],[snf7_ypd,snf7_ypd_fit],[snf7_evo,snf7_evo_fit],snf7_byrm]
];

// ---------------- LAYOUT / STYLE ----------------
const colors = ["#0173b2","#de8f05","#029e73","#d55e00","#cc78bc","#ca9161"];
const ink = "#262626";
const colLeft = [43,195,346,498], colW = 127;
const rowTop = [41,172,305,435,567,700], rowBot = [133,266,398,530,663,795];
const svg = d3.select("#c");
const defs = svg.append("defs");

function styleAxis(g){
  g.select(".domain").attr("stroke",ink).attr("stroke-width",1.2);
  g.selectAll(".tick line").attr("stroke",ink).attr("stroke-width",1.1);
  g.selectAll(".tick text").attr("fill",ink).style("font-size","8px").style("font-family","'Noto Sans',sans-serif");
}

for(let r=0;r<6;r++){
  for(let c=0;c<4;c++){
    const L=colLeft[c], R=L+colW, T=rowTop[r], B=rowBot[r];
    const x=d3.scaleLinear().domain(xDomains[r][c]).range([L,R]);
    const y=d3.scaleLinear().domain(yDomains[r]).range([B,T]);
    const id="cp"+r+"_"+c;
    defs.append("clipPath").attr("id",id).append("rect").attr("x",L).attr("y",T).attr("width",R-L).attr("height",B-T);
    const inner=svg.append("g").attr("clip-path","url(#"+id+")");
    const zl=inner.append("line").attr("x1",L).attr("x2",R).attr("y1",y(0)).attr("y2",y(0));
    if(c<3) zl.attr("stroke","#b3b3b3").attr("stroke-width",1);
    else zl.attr("stroke","#9a9a9a").attr("stroke-width",0.8).attr("stroke-dasharray","1,1.6");
    if(c<3){
      const [pts,fits]=panelData[r][c];
      fits.forEach(f=>{
        inner.append("line").attr("x1",x(f[1])).attr("y1",y(f[2])).attr("x2",x(f[3])).attr("y2",y(f[4]))
          .attr("stroke",f[0]<0?"#333":colors[f[0]]).attr("stroke-width",1).attr("stroke-dasharray","3,2");
      });
      pts.forEach(p=>{
        const col=colors[p[0]], cx=x(p[1]), cy=y(p[2]);
        inner.append("line").attr("x1",x(p[1]-p[3])).attr("x2",x(p[1]+p[3])).attr("y1",cy).attr("y2",cy)
          .attr("stroke",col).attr("stroke-opacity",0.55).attr("stroke-width",1.5);
        inner.append("line").attr("x1",cx).attr("x2",cx).attr("y1",y(p[2]-p[4])).attr("y2",y(p[2]+p[4]))
          .attr("stroke",col).attr("stroke-opacity",0.55).attr("stroke-width",1.5);
        inner.append("circle").attr("cx",cx).attr("cy",cy).attr("r",2.8).attr("fill",col);
      });
    } else {
      const pts=panelData[r][c];
      pts.forEach(p=>{
        const cx=x(p[0]), cy=y(p[1]);
        inner.append("line").attr("x1",x(p[0]-byrmXerr)).attr("x2",x(p[0]+byrmXerr)).attr("y1",cy).attr("y2",cy)
          .attr("stroke","#222").attr("stroke-opacity",0.8).attr("stroke-width",1);
        inner.append("line").attr("x1",cx).attr("x2",cx).attr("y1",y(p[1]-p[2])).attr("y2",y(p[1]+p[2]))
          .attr("stroke","#222").attr("stroke-opacity",0.8).attr("stroke-width",1);
        inner.append("circle").attr("cx",cx).attr("cy",cy).attr("r",1.7).attr("fill","#1a1a1a");
      });
    }
    const gx=svg.append("g").attr("transform","translate(0,"+B+")")
      .call(d3.axisBottom(x).tickValues(xTicks[r][c]).tickFormat(d3.format(xFormats[r][c])).tickSize(3.5).tickSizeOuter(0).tickPadding(3));
    styleAxis(gx);
    const ax=d3.axisLeft(y).tickValues(yTicks[r]).tickSize(3.5).tickSizeOuter(0).tickPadding(3);
    ax.tickFormat(c===0?d3.format(yFormats[r]):()=> "");
    const gy=svg.append("g").attr("transform","translate("+L+",0)").call(ax);
    styleAxis(gy);
  }
  const mid=(rowTop[r]+rowBot[r])/2;
  svg.append("text").attr("x",12).attr("y",mid-7).attr("text-anchor","middle").attr("dominant-baseline","central")
    .style("font-size","14px").text(yLabel);
  svg.append("text").attr("x",637).attr("y",mid).attr("dominant-baseline","central")
    .style("font-size","13.5px").text(rowGenes[r]);
}

// column titles (multi-line title as one text element with tspans)
colTitles.forEach((t,c)=>{
  const cx=colLeft[c]+colW/2;
  if(t.length===1){
    svg.append("text").attr("x",cx).attr("y",31).attr("text-anchor","middle").style("font-size","16px").text(t[0]);
  } else {
    const tt=svg.append("text").attr("x",cx).attr("y",15).attr("text-anchor","middle").style("font-size","15px");
    tt.append("tspan").attr("x",cx).attr("y",15).text(t[0]);
    tt.append("tspan").attr("x",cx).attr("y",31).style("font-size","16px").text(t[1]);
  }
  svg.append("text").attr("x",cx).attr("y",828).attr("text-anchor","middle").style("font-size","14px").text(xLabels[c]);
});

// legends
const legends=[seriesSC,seriesYPD,seriesEvo];
const legMarkX=[[62,128],[212,283],[365,433]];
const legRowY=[843,857.5,871.5];
legends.forEach((names,c)=>{
  names.forEach((n,i)=>{
    const colI=Math.floor(i/3), rowI=i%3;
    const mx=legMarkX[c][colI], my=legRowY[rowI], col=colors[i];
    const g=svg.append("g");
    g.append("line").attr("x1",mx-6).attr("x2",mx+6).attr("y1",my).attr("y2",my).attr("stroke",col).attr("stroke-opacity",0.6).attr("stroke-width",1.5);
    g.append("line").attr("x1",mx).attr("x2",mx).attr("y1",my-5).attr("y2",my+5).attr("stroke",col).attr("stroke-opacity",0.6).attr("stroke-width",1.5);
    g.append("circle").attr("cx",mx).attr("cy",my).attr("r",2.6).attr("fill",col);
    g.append("text").attr("x",mx+16).attr("y",my).attr("dominant-baseline","central").style("font-size","8.5px").text(n);
  });
});
</script></body></html>
